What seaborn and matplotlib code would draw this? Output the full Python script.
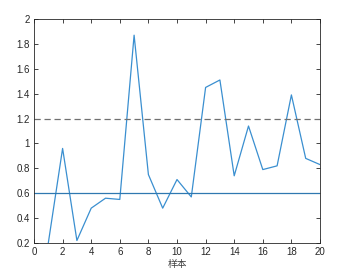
import matplotlib
matplotlib.use("Agg")
import matplotlib.pyplot as plt
import seaborn as sns
import pandas as pd

sns.set_theme(style="ticks")
plt.rcParams['font.family'] = ['Liberation Sans', 'Noto Sans CJK SC', 'DejaVu Sans']

samples = list(range(1, 21))
values = [0.20, 0.96, 0.22, 0.48, 0.56, 0.55, 1.87, 0.75, 0.48, 0.71,
          0.57, 1.45, 1.51, 0.74, 1.14, 0.79, 0.82, 1.39, 0.88, 0.83]
solid_level = 0.6
dashed_level = 1.2
x_ticks = [0, 2, 4, 6, 8, 10, 12, 14, 16, 18, 20]
y_ticks = [0.2, 0.4, 0.6, 0.8, 1.0, 1.2, 1.4, 1.6, 1.8, 2.0]
y_tick_labels = ['0.2', '0.4', '0.6', '0.8', '1', '1.2', '1.4', '1.6', '1.8', '2']
xlabel = '样本'

df = pd.DataFrame({'sample': samples, 'value': values})

fig = plt.figure(figsize=(3.48, 2.79), dpi=100)
ax = fig.add_axes([34/348, 36/279, 286/348, 224/279])

sns.lineplot(data=df, x='sample', y='value', ax=ax, color='#3a8fd0', linewidth=0.9)
ax.axhline(solid_level, color='#2f78b0', linewidth=0.9)
ax.axhline(dashed_level, color='#707070', linewidth=0.9, linestyle=(0, (5, 3)))

ax.set_xlim(0, 20)
ax.set_ylim(0.2, 2.0)
ax.set_xticks(x_ticks)
ax.set_yticks(y_ticks)
ax.set_yticklabels(y_tick_labels)
ax.set_xlabel(xlabel, fontsize=7, color='#404040', labelpad=1)
ax.set_ylabel('')

ax.tick_params(axis='both', which='major', direction='in', length=3, width=0.6,
               color='#262626', labelsize=7, top=True, right=True, pad=3,
               labelcolor='#262626')
for s in ax.spines.values():
    s.set_visible(True)
    s.set_color('#262626')
    s.set_linewidth(0.6)

fig.savefig('out.png', dpi=100)
